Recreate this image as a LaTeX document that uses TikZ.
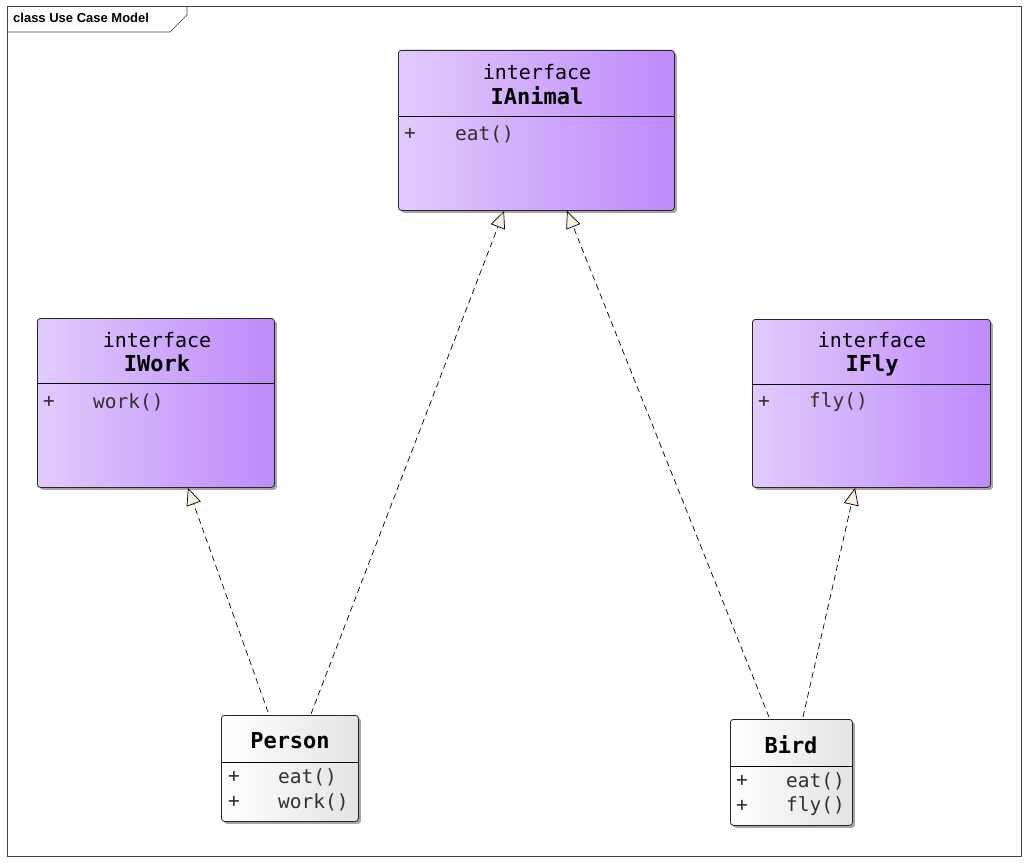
\documentclass[tikz,border=0pt]{standalone}
\usepackage{fontspec}
\setmainfont{Liberation Sans}
\setmonofont{DejaVu Sans Mono}
\usetikzlibrary{arrows.meta,shadows}
\definecolor{ifleft}{HTML}{E2CAFC}
\definecolor{ifright}{HTML}{BE8AFA}
\definecolor{clright}{HTML}{E4E4E4}
\definecolor{tipfill}{HTML}{FAF0E2}
\definecolor{membertext}{HTML}{303030}
\tikzset{
  ifbox/.style={draw=black!85, line width=0.8pt, rounded corners=3pt, anchor=north west,
    left color=ifleft, right color=ifright, inner sep=0pt,
    drop shadow={shadow xshift=2.5pt, shadow yshift=-2.5pt, fill=black, opacity=0.35}},
  clbox/.style={draw=black!85, line width=0.8pt, rounded corners=3pt, anchor=north west,
    left color=white, right color=clright, inner sep=0pt,
    drop shadow={shadow xshift=2.5pt, shadow yshift=-2.5pt, fill=black, opacity=0.35}},
  stereo/.style={font=\ttfamily\fontsize{20}{20}\selectfont, inner sep=0pt, anchor=center},
  cname/.style={font=\ttfamily\bfseries\fontsize{22}{22}\selectfont, inner sep=0pt, anchor=center},
  member/.style={font=\ttfamily\fontsize{19.5}{19.5}\selectfont, text=membertext, inner sep=0pt, anchor=west},
  divider/.style={line width=0.8pt, draw=black},
  realize/.style={dash pattern=on 6pt off 4pt, line width=0.7pt,
    -{Triangle[length=17pt,width=15pt,fill=tipfill,line width=0.7pt]}},
}
\begin{document}
\begin{tikzpicture}[x=1pt,y=-1pt]
\useasboundingbox (0,0) rectangle (1026,864);
\fill[white] (0,0) rectangle (1026,864);
% frame
\draw[line width=0.7pt, draw=black!75] (7,6) rectangle (1021,856);
\draw[line width=0.7pt, draw=black!75] (7,32) -- (170,32) -- (187,15) -- (187,6);
\node[font=\bfseries\fontsize{13}{13}\selectfont, anchor=west, inner sep=0pt] (title) at (13,18) {class Use Case Model};

% IAnimal
\node[ifbox, minimum width=276pt, minimum height=160pt] (ianimal) at (398,50) {};
\draw[divider] (398,116) -- (674,116);
\node[stereo] (ianimalst) at (537,72) {interface};
\node[cname] (ianimalnm) at (537,96) {IAnimal};
\node[member] (ianimalp) at (404,134) {+};
\node[member] (ianimalm) at (455,134) {eat()};

% IWork
\node[ifbox, minimum width=237pt, minimum height=169pt] (iwork) at (37,318) {};
\draw[divider] (37,383) -- (274,383);
\node[stereo] (iworkst) at (157,340) {interface};
\node[cname] (iworknm) at (157,363) {IWork};
\node[member] (iworkp) at (43,402) {+};
\node[member] (iworkm) at (93,402) {work()};

% IFly
\node[ifbox, minimum width=238pt, minimum height=168pt] (ifly) at (752,319) {};
\draw[divider] (752,384) -- (990,384);
\node[stereo] (iflyst) at (872,340) {interface};
\node[cname] (iflynm) at (872,365) {IFly};
\node[member] (iflyp) at (758,402) {+};
\node[member] (iflym) at (809,402) {fly()};

% Person
\node[clbox, minimum width=137pt, minimum height=106pt] (person) at (221,715) {};
\draw[divider] (221,762) -- (358,762);
\node[cname] (personnm) at (290,741) {Person};
\node[member] (personp1) at (228,777) {+};
\node[member] (personm1) at (278,777) {eat()};
\node[member] (personp2) at (228,802) {+};
\node[member] (personm2) at (278,802) {work()};

% Bird
\node[clbox, minimum width=122pt, minimum height=106pt] (bird) at (730,719) {};
\draw[divider] (730,766) -- (852,766);
\node[cname] (birdnm) at (791,745) {Bird};
\node[member] (birdp1) at (736,781) {+};
\node[member] (birdm1) at (786,781) {eat()};
\node[member] (birdp2) at (736,806) {+};
\node[member] (birdm2) at (786,806) {fly()};

% connector end points
\coordinate (pw) at (268,712);
\coordinate (pa) at (311,714);
\coordinate (ba) at (769,717);
\coordinate (bf) at (803,717);
\coordinate (iwt) at (188,488);
\coordinate (iat1) at (504,211);
\coordinate (iat2) at (567,211);
\coordinate (ift) at (855,488);

\draw[realize] (pw) -- (iwt);
\draw[realize] (pa) -- (iat1);
\draw[realize] (ba) -- (iat2);
\draw[realize] (bf) -- (ift);
\end{tikzpicture}
\end{document}
